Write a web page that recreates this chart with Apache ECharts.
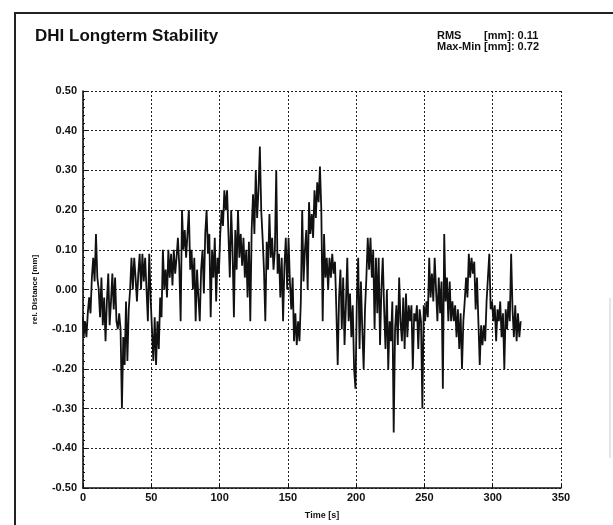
<!DOCTYPE html>
<html lang="en">
<head>
    <meta charset="UTF-8">
    <title>DHI Longterm Stability</title>
    <style>
        html, body { margin: 0; padding: 0; background: #fff; }
    </style>
</head>
<body>
<div id="main" style="width:613px;height:525px"></div>
<script src="https://cdn.jsdelivr.net/npm/echarts@6/dist/echarts.min.js"></script>
<script>
    // time step of the samples [s]
    var timeStep = 1;
    // relative distance [mm], one value per second
    var distance = [
        -0.07, -0.12, -0.08, -0.12, -0.06, -0.02, -0.06, 0.03, 0.08, 0.02,
        0.14, 0.03, 0.00, -0.07, 0.03, -0.09, -0.02, -0.13, -0.03, 0.04,
        -0.09, -0.03, 0.04, -0.05, 0.03, -0.08, -0.10, -0.06, -0.10, -0.30,
        -0.12, -0.19, -0.03, -0.18, -0.05, 0.00, 0.08, 0.00, 0.08, 0.03,
        -0.03, 0.04, 0.09, 0.00, 0.09, 0.02, 0.08, 0.00, -0.08, 0.09,
        -0.02, -0.10, -0.18, -0.07, -0.19, -0.08, -0.15, -0.02, -0.07, 0.10,
        0.00, 0.05, -0.02, 0.10, 0.03, 0.09, 0.01, 0.10, 0.04, 0.08,
        0.13, 0.06, -0.08, 0.20, 0.10, 0.15, 0.08, 0.14, 0.20, 0.05,
        0.10, 0.00, 0.08, -0.08, 0.05, -0.02, -0.08, 0.05, 0.10, -0.01,
        0.14, 0.20, 0.09, 0.14, -0.07, 0.10, 0.03, 0.13, -0.03, 0.08,
        0.04, 0.14, 0.20, 0.16, 0.25, 0.20, 0.25, 0.14, 0.03, 0.20,
        0.10, -0.07, 0.15, 0.05, 0.20, 0.08, 0.14, 0.06, 0.13, 0.03,
        0.10, -0.02, 0.12, -0.08, 0.15, 0.24, 0.14, 0.30, 0.18, 0.25,
        0.36, 0.20, 0.13, 0.05, -0.08, 0.12, 0.05, 0.19, 0.08, 0.13,
        0.05, 0.10, 0.30, 0.04, 0.09, -0.02, 0.08, -0.08, 0.06, 0.13,
        0.00, 0.13, 0.02, -0.05, 0.03, -0.13, -0.06, -0.14, -0.08, -0.13,
        -0.03, 0.20, 0.02, 0.10, 0.15, 0.00, 0.22, 0.14, 0.19, 0.13,
        0.25, 0.18, 0.27, 0.22, 0.31, 0.20, -0.08, 0.14, 0.03, 0.08,
        0.00, 0.08, 0.03, 0.09, 0.04, 0.07, -0.05, -0.19, -0.02, 0.05,
        -0.10, 0.03, -0.14, -0.04, 0.08, -0.08, -0.01, -0.12, -0.04, -0.20,
        -0.25, -0.03, 0.08, -0.15, 0.02, -0.10, -0.20, -0.05, 0.03, 0.13,
        0.05, 0.13, 0.03, 0.10, -0.10, 0.08, -0.06, 0.08, -0.14, 0.00,
        0.08, -0.05, -0.15, 0.00, -0.20, -0.08, -0.13, -0.03, -0.36, -0.10,
        -0.04, -0.14, 0.03, -0.08, -0.13, -0.02, -0.15, -0.01, -0.12, -0.04,
        -0.08, -0.04, -0.20, -0.06, -0.08, -0.04, -0.15, -0.05, -0.08, -0.30,
        -0.04, -0.08, -0.03, -0.07, 0.08, -0.02, 0.04, -0.03, 0.08, 0.00,
        -0.08, 0.03, -0.06, 0.02, -0.25, 0.14, -0.03, 0.03, -0.08, 0.02,
        -0.08, -0.03, -0.08, -0.04, -0.12, -0.05, -0.15, -0.06, -0.20, -0.08,
        -0.03, 0.03, -0.02, 0.09, 0.03, 0.08, 0.04, 0.07, -0.05, 0.03,
        -0.08, -0.19, -0.09, -0.14, -0.09, -0.13, -0.03, 0.03, 0.09, -0.05,
        -0.03, -0.08, -0.04, -0.13, -0.05, -0.08, -0.03, -0.12, -0.06, -0.20,
        -0.05, -0.10, -0.03, -0.08, 0.09, -0.05, -0.12, -0.04, -0.13, -0.06,
        -0.12, -0.08
    ];
    var statLabels = ['RMS', 'Max-Min'];
    var statValues = ['0.11', '0.72'];

    var seriesData = [];
    for (var i = 0; i < distance.length; i++) {
        seriesData.push([i * timeStep, distance[i]]);
    }

    var font = 'Liberation Sans, Arial, sans-serif';
    var ink = '#111';

    var myChart = echarts.init(document.getElementById('main'));
    var option = {
        backgroundColor: '#fff',
        animation: false,
        grid: {
            left: 83,
            right: 52,
            top: 91,
            bottom: 37
        },
        xAxis: {
            type: 'value',
            min: 0,
            max: 350,
            interval: 50,
            name: 'Time [s]',
            nameLocation: 'middle',
            nameGap: 23,
            nameTextStyle: { color: ink, fontFamily: font, fontWeight: 'bold', fontSize: 9 },
            axisLine: { onZero: false, lineStyle: { color: ink, width: 1.6 } },
            axisTick: { show: true, inside: true, length: 4, lineStyle: { color: ink } },
            axisLabel: { color: ink, fontFamily: font, fontWeight: 'bold', fontSize: 11, margin: 4 },
            splitLine: { show: true, lineStyle: { color: '#222', type: [2, 2], width: 1 } }
        },
        yAxis: {
            type: 'value',
            min: -0.5,
            max: 0.5,
            interval: 0.1,
            name: 'rel. Distance [mm]',
            nameLocation: 'middle',
            nameRotate: 90,
            nameGap: 44,
            nameTextStyle: { color: ink, fontFamily: font, fontWeight: 'bold', fontSize: 8 },
            axisLine: { show: true, onZero: false, lineStyle: { color: ink, width: 1.6 } },
            axisTick: { show: true, inside: true, length: 4, lineStyle: { color: ink } },
            minorTick: { show: true, splitNumber: 5, length: 2, lineStyle: { color: ink } },
            axisLabel: {
                color: ink, fontFamily: font, fontWeight: 'bold', fontSize: 11, margin: 6,
                formatter: function (v) {
                    return (Math.round(v * 100) / 100).toFixed(2);
                }
            },
            splitLine: { show: true, lineStyle: { color: '#222', type: [2, 2], width: 1 } }
        },
        graphic: [
            // scanned page frame
            {
                type: 'rect',
                shape: { x: 15, y: 13, width: 620, height: 530 },
                style: { fill: 'none', stroke: '#222', lineWidth: 2 },
                silent: true
            },
            {
                type: 'line',
                shape: { x1: 610, y1: 298, x2: 610, y2: 458 },
                style: { stroke: '#ccc', lineWidth: 1 },
                silent: true
            },
            {
                type: 'text',
                left: 35,
                top: 28,
                style: { text: 'DHI Longterm Stability', fill: ink, font: 'bold 17px ' + font }
            },
            {
                type: 'text',
                left: 437,
                top: 30,
                style: { text: statLabels[0], fill: ink, font: 'bold 11px ' + font }
            },
            {
                type: 'text',
                left: 484,
                top: 30,
                style: { text: '[mm]: ' + statValues[0], fill: ink, font: 'bold 11px ' + font }
            },
            {
                type: 'text',
                left: 437,
                top: 41,
                style: { text: statLabels[1], fill: ink, font: 'bold 11px ' + font }
            },
            {
                type: 'text',
                left: 484,
                top: 41,
                style: { text: '[mm]: ' + statValues[1], fill: ink, font: 'bold 11px ' + font }
            }
        ],
        series: [
            {
                type: 'line',
                data: seriesData,
                step: 'middle',
                showSymbol: false,
                symbol: 'none',
                lineStyle: { color: ink, width: 1.8 },
                z: 3
            }
        ]
    };
    myChart.setOption(option);
</script>
</body>
</html>
